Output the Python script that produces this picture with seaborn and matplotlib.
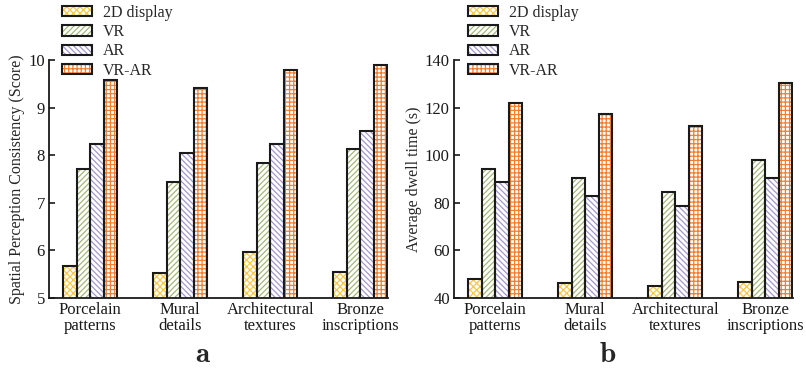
import matplotlib
matplotlib.use("Agg")
import matplotlib.pyplot as plt
from matplotlib.patches import Patch, Rectangle
import seaborn as sns
import pandas as pd

categories = ["Porcelain\npatterns", "Mural\ndetails", "Architectural\ntextures", "Bronze\ninscriptions"]
methods = ["2D display", "VR", "AR", "VR-AR"]

# Spatial perception consistency scores
score_2d = [5.68, 5.52, 5.96, 5.55]
score_vr = [7.71, 7.43, 7.84, 8.13]
score_ar = [8.24, 8.04, 8.24, 8.51]
score_vrar = [9.57, 9.42, 9.79, 9.89]

# Average dwell time (s)
dwell_2d = [47.9, 46.5, 44.9, 46.6]
dwell_vr = [94.3, 90.4, 84.5, 98.0]
dwell_ar = [88.7, 82.8, 78.6, 90.6]
dwell_vrar = [121.9, 117.2, 112.2, 130.2]

hatch_colors = ["#f7c948", "#a3b87a", "#a497cc", "#f27e2f"]
hatches = ["xxxxx", "//////", "\\\\\\\\\\\\", "++++"]


def long_table(series):
    rows = []
    for method, vals in zip(methods, series):
        for cat, v in zip(categories, vals):
            rows.append({"category": cat, "method": method, "value": v})
    return pd.DataFrame(rows)


sns.set_style("white")
plt.rcParams["font.family"] = ["Liberation Serif", "DejaVu Serif"]
plt.rcParams["mathtext.fontset"] = "cm"
plt.rcParams["hatch.linewidth"] = 0.9

fig = plt.figure(figsize=(8.06, 3.71), dpi=100)
W, H = 806, 371


def panel(left_px, data, ylim, yticks, ylabel, letter, legend_x_px):
    ax = fig.add_axes([left_px / W, 1 - 298 / H, 339 / W, 238 / H])
    df = long_table(data)
    sns.barplot(data=df, x="category", y="value", hue="method",
                hue_order=methods, order=categories, width=0.6,
                palette=["white"] * 4, legend=False, ax=ax,
                saturation=1, err_kws={"linewidth": 0})
    bars = list(ax.patches)
    n = len(categories)
    for i, bar in enumerate(bars):
        k = i // n
        bar.set_facecolor("white")
        bar.set_edgecolor(hatch_colors[k])
        bar.set_hatch(hatches[k])
        bar.set_linewidth(0)
        ax.add_patch(Rectangle(bar.get_xy(), bar.get_width(), bar.get_height(),
                               fill=False, edgecolor="#1a1a1a", linewidth=1.5,
                               zorder=bar.get_zorder() + 0.1))
    ax.set_xlim(-0.46, 3.31)
    ax.set_ylim(*ylim)
    ax.set_yticks(yticks)
    ax.set_xlabel("")
    ax.set_ylabel(ylabel, fontsize=11.5, labelpad=2)
    ax.tick_params(axis="y", direction="in", length=4, width=1.2,
                   labelsize=12, pad=3, colors="#1a1a1a", left=True)
    ax.tick_params(axis="x", length=0, labelsize=12, pad=3, colors="#1a1a1a")
    for lbl in ax.get_xticklabels():
        lbl.set_linespacing(1.0)
    for side in ["top", "right"]:
        ax.spines[side].set_visible(False)
    for side in ["left", "bottom"]:
        ax.spines[side].set_color("#1a1a1a")
        ax.spines[side].set_linewidth(1.3)
    ax.patch.set_alpha(0)

    handles = [Patch(facecolor="white", edgecolor=c, hatch=h, linewidth=0)
               for c, h in zip(hatch_colors, hatches)]
    outline = [Patch(facecolor="none", edgecolor="#1a1a1a", linewidth=1.5)
               for _ in hatches]
    fig.legend([(h, o) for h, o in zip(handles, outline)], methods,
               loc="upper left", bbox_to_anchor=(legend_x_px / W, 1 - 5 / H),
               frameon=False, fontsize=11.5, handlelength=1.85,
               handleheight=0.6, handletextpad=0.7, labelspacing=0.2,
               borderpad=0, borderaxespad=0)
    fig.text((left_px + 154) / W, 1 - 355 / H, r"$\mathbf{" + letter + "}$",
             fontsize=21, ha="center", va="center")
    return ax


panel(49, [score_2d, score_vr, score_ar, score_vrar], (5, 10),
      [5, 6, 7, 8, 9, 10], "Spatial Perception Consistency (Score)", "a", 62)
panel(454, [dwell_2d, dwell_vr, dwell_ar, dwell_vrar], (40, 140),
      [40, 60, 80, 100, 120, 140], "Average dwell time (s)", "b", 468)

fig.savefig("out.png", dpi=100)
